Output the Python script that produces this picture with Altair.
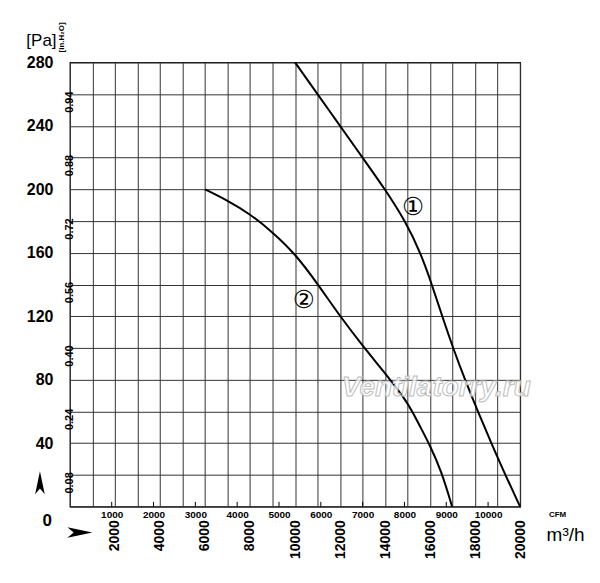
import altair as alt
import pandas as pd

# ---- data ----
curve1_q = [10000, 11000, 12000, 13000, 14000, 14900, 15580, 16080, 16540, 17020, 17550, 18120, 18720, 19340, 20000]
curve1_p = [280, 260, 240, 220, 200, 180, 160, 140, 120, 100, 80, 60, 40, 20, 0]
curve2_q = [6000, 7000, 8000, 9000, 10000, 11000, 12000, 13000, 14000, 15000, 15500, 16000, 16500, 16980]
curve2_p = [200, 193, 184.5, 173, 159.5, 140.5, 120, 101.5, 84, 66, 52, 38.5, 22.5, 0]

grid_q = list(range(0, 20001, 1000))
grid_p = list(range(0, 281, 20))
inh2o_pos = [20, 60, 100, 140, 180, 220, 260]
inh2o_labels = ["0.08", "0.24", "0.40", "0.56", "0.72", "0.88", "0.94"]
cfm_ticks = [1000, 2000, 3000, 4000, 5000, 6000, 7000, 8000, 9000, 10000]
cfm_domain_max = 10766

label_names = ["\u2460", "\u2461"]
label_q = [15250, 10400]
label_p = [189, 130]

FONT = "Liberation Sans, Arial, sans-serif"
GRID = "#333333"

curves = pd.DataFrame({
    "q": curve1_q + curve2_q,
    "p": curve1_p + curve2_p,
    "curve": ["1"] * len(curve1_q) + ["2"] * len(curve2_q),
})
labels_df = pd.DataFrame({"q": label_q, "p": label_p, "t": label_names})
inh2o_df = pd.DataFrame({"p": inh2o_pos, "t": inh2o_labels})
cfm_df = pd.DataFrame({"cfm": cfm_ticks})

xs = alt.Scale(domain=[0, 20000], nice=False)
ys = alt.Scale(domain=[0, 280], nice=False)

x_axis = alt.Axis(
    values=grid_q, grid=True, gridColor=GRID, gridOpacity=1, gridWidth=1,
    ticks=False, domain=False, labelAngle=270, labelFont=FONT, labelFontSize=14,
    labelFontWeight="bold", labelColor="#000", labelPadding=13, format="d",
    labelExpr="datum.value % 2000 == 0 && datum.value > 0 ? datum.label : ''",
    labelOverlap=False,
    title="m\u00b3/h", titleFont=FONT, titleFontSize=19, titleFontWeight="normal",
    titleAngle=0, titleAlign="center", titleBaseline="middle", titleX=496, titleY=28,
    titleColor="#000",
)
y_axis = alt.Axis(
    values=grid_p, grid=True, gridColor=GRID, gridOpacity=1, gridWidth=1,
    ticks=False, domain=False, labelFont=FONT, labelFontSize=16, labelFontWeight="bold",
    labelColor="#000", labelPadding=17, labelBaseline="middle",
    labelExpr="datum.value % 40 == 0 && datum.value > 0 ? datum.label : ''",
    labelOverlap=False,
    title="[Pa]", titleFont=FONT, titleFontSize=17, titleFontWeight="normal",
    titleAngle=0, titleAlign="center", titleBaseline="middle", titleX=-29, titleY=-22,
    titleColor="#000",
)

lines = alt.Chart(curves).mark_line(color="black", strokeWidth=2, interpolate="basis").encode(
    x=alt.X("q:Q", scale=xs, axis=x_axis),
    y=alt.Y("p:Q", scale=ys, axis=y_axis),
    detail="curve:N",
)

curve_labels = alt.Chart(labels_df).mark_text(
    font="DejaVu Sans", fontSize=25, color="black", align="center", baseline="middle"
).encode(
    x=alt.X("q:Q", scale=xs, axis=x_axis),
    y=alt.Y("p:Q", scale=ys, axis=y_axis),
    text="t:N",
)

inh2o = alt.Chart(inh2o_df).mark_text(
    font=FONT, fontSize=11, fontWeight="bold", angle=270, align="center",
    baseline="middle", color="black", dx=-8
).encode(
    x=alt.X("xx:Q", scale=xs, axis=x_axis),
    y=alt.Y("p:Q", scale=ys, axis=y_axis),
    text="t:N",
).transform_calculate(xx="0")

zero_label = alt.Chart(pd.DataFrame({"t": ["0"], "q": [0], "p": [0]})).mark_text(
    font=FONT, fontSize=17, fontWeight="bold", align="right", baseline="middle",
    color="black", dx=-18, dy=14
).encode(
    x=alt.X("q:Q", scale=xs, axis=x_axis),
    y=alt.Y("p:Q", scale=ys, axis=y_axis),
    text="t:N",
)

unit_h2o = alt.Chart(pd.DataFrame({"t": ["[in.H\u2082O]"]})).mark_text(
    font=FONT, fontSize=8, fontWeight="bold", angle=270, align="center",
    baseline="middle", color="black"
).encode(x=alt.value(-8), y=alt.value(-25), text="t:N")

arrow_up = alt.Chart(pd.DataFrame({"a": [1]})).mark_point(
    shape="M0,-1 L0.42,1 L0,0.5 L-0.42,1 Z", filled=True, color="black", size=529, opacity=1
).encode(x=alt.value(-30), y=alt.value(421))

arrow_right = alt.Chart(pd.DataFrame({"a": [1]})).mark_point(
    shape="M1,0 L-1,0.42 L-0.5,0 L-1,-0.42 Z", filled=True, color="black", size=625, opacity=1
).encode(x=alt.value(10), y=alt.value(471))

watermark = alt.Chart(pd.DataFrame({"t": ["Ventilatorry.ru"]})).mark_text(
    font=FONT, fontSize=28, fontStyle="italic",
    fontWeight="bold", fill="#ffffff", fillOpacity=0.75, stroke="#bdbdbd",
    strokeWidth=1, align="center", baseline="middle"
).encode(x=alt.value(367), y=alt.value(326), text="t:N")

main = alt.layer(lines, curve_labels, inh2o, zero_label, unit_h2o, arrow_up, arrow_right, watermark)

cfm_layer = alt.Chart(cfm_df).mark_rule(color="black", strokeWidth=1).encode(
    x=alt.X("cfm:Q", scale=alt.Scale(domain=[0, cfm_domain_max], nice=False),
            axis=alt.Axis(orient="bottom", values=cfm_ticks, grid=False, ticks=False,
                          domain=False, labelFont=FONT, labelFontSize=10,
                          labelFontWeight="bold", labelColor="#000", labelPadding=3,
                          format="d", labelOverlap=False,
                          title="CFM", titleFont=FONT, titleFontSize=8, titleFontWeight="bold",
                          titleAngle=0, titleAlign="center", titleBaseline="middle",
                          titleX=488, titleY=8, titleColor="#000")),
    y=alt.Y("y0:Q", scale=ys, axis=y_axis),
    y2="y1:Q",
).transform_calculate(y0="0", y1="3")

chart = alt.layer(main, cfm_layer).resolve_scale(x="independent").properties(
    width=451, height=445,
    autosize=alt.AutoSizeParams(type="none"),
    padding={"left": 62, "top": 54, "right": 72, "bottom": 66},
    background="white",
).configure_view(stroke="#000", strokeWidth=1.2)

chart.save("out.html", embed_options={"renderer": "svg", "actions": False})
